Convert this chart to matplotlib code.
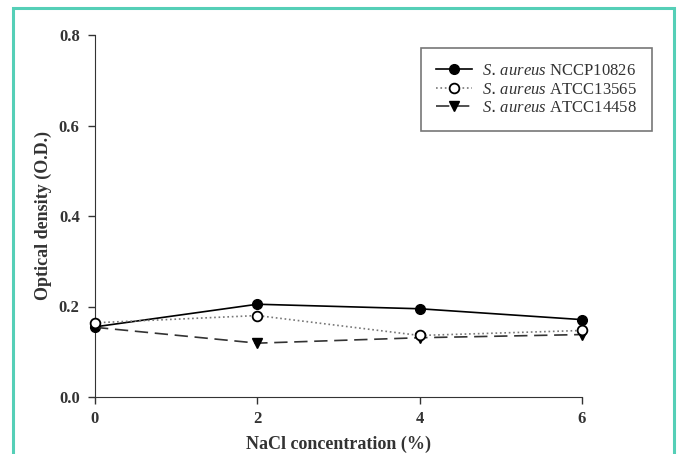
import matplotlib
matplotlib.use('Agg')
import matplotlib.pyplot as plt
from matplotlib.patches import Rectangle

# --- data -----------------------------------------------------------------------
nacl = [0, 2, 4, 6]
nccp10826 = [0.155, 0.205, 0.195, 0.171]
atcc13565 = [0.164, 0.180, 0.136, 0.147]
atcc14458 = [0.154, 0.119, 0.131, 0.138]
y_ticks = [0.0, 0.2, 0.4, 0.6, 0.8]
x_ticks = [0, 2, 4, 6]
strains = ['NCCP10826', 'ATCC13565', 'ATCC14458']

plt.rcParams['font.family'] = ['Liberation Serif', 'DejaVu Serif']
plt.rcParams['mathtext.fontset'] = 'custom'
plt.rcParams['mathtext.it'] = 'Liberation Serif:italic'

fig = plt.figure(figsize=(6.77, 4.54), dpi=100)
# teal frame around the figure (open at the bottom)
fig.patches.append(Rectangle((13 / 677, -0.05), (674 - 13) / 677, 1 - 8 / 454 + 0.05,
                             transform=fig.transFigure, fill=False,
                             edgecolor='#55cfb7', lw=2.2))

ax = fig.add_axes([95 / 677, 1 - 397 / 454, (582 - 95) / 677, (397 - 35) / 454])
ax.plot(nacl, nccp10826, '-', color='black', lw=1.2, marker='o', ms=7,
        mfc='black', mec='black', label=f'$\\it{{S.\\,aureus}}$ {strains[0]}', zorder=3)
ax.plot(nacl, atcc13565, ':', color='#777777', lw=1.2, marker='o', ms=7,
        mfc='white', mec='black', mew=1.3, label=f'$\\it{{S.\\,aureus}}$ {strains[1]}', zorder=4)
ax.plot(nacl, atcc14458, '--', color='#333333', lw=1.2, dashes=(8, 4), marker='v', ms=7,
        mfc='black', mec='black', label=f'$\\it{{S.\\,aureus}}$ {strains[2]}', zorder=3)

ax.set_xlim(0, 6)
ax.set_ylim(0, 0.8)
ax.set_xticks(x_ticks)
ax.set_yticks(y_ticks)
ax.set_xticklabels([str(v) for v in x_ticks])
ax.set_yticklabels([f'{v:.1f}' for v in y_ticks])
ax.tick_params(direction='out', length=5, width=1, color='#333333', pad=6,
               labelsize=12, labelcolor='#333333')
ax.tick_params(axis='x', pad=5)
for t in ax.get_xticklabels() + ax.get_yticklabels():
    t.set_fontweight('bold')
for s in ['top', 'right']:
    ax.spines[s].set_visible(False)
for s in ['left', 'bottom']:
    ax.spines[s].set_color('#333333')
for ln in ax.lines:
    ln.set_clip_on(False)

ax.set_xlabel('NaCl concentration (%)', fontweight='bold', fontsize=13, color='#333333', labelpad=6)
ax.set_ylabel('Optical density (O.D.)', fontweight='bold', fontsize=13, color='#333333', labelpad=5)

leg = ax.legend(loc='upper right', bbox_to_anchor=(652 / 677, 1 - 48 / 454),
                bbox_transform=fig.transFigure, borderaxespad=0, fontsize=12,
                frameon=True, fancybox=False, edgecolor='#555555', handlelength=2.2,
                borderpad=0.9, labelspacing=0.15, handletextpad=0.6)
leg.get_frame().set_linewidth(1.2)
for t in leg.get_texts():
    t.set_color('#333333')

fig.savefig('out.png', dpi=100)
